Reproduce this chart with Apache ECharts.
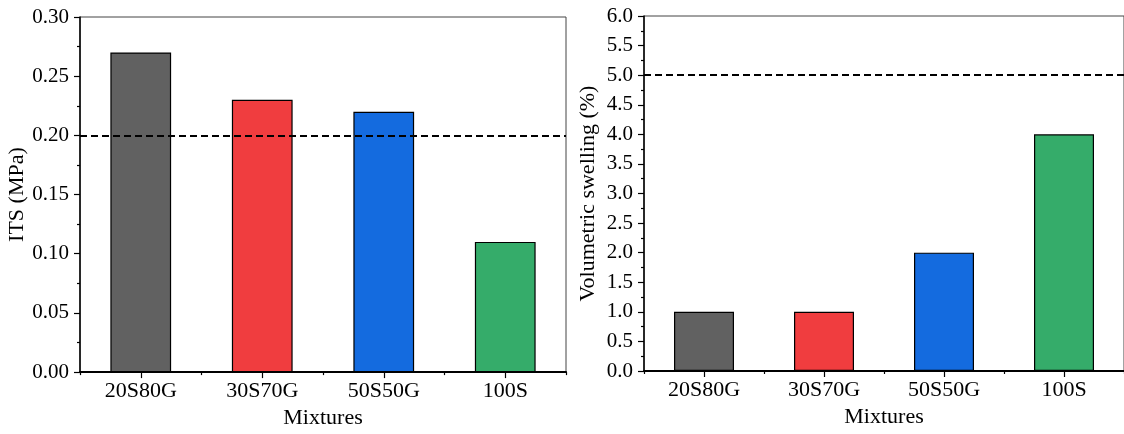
<!DOCTYPE html>
<html>
<head>
<meta charset="utf-8">
<script src="https://cdn.jsdelivr.net/npm/echarts@6/dist/echarts.min.js"></script>
<style>
html,body{margin:0;padding:0;background:#fff;}
#c{width:1124px;height:434px;}
</style>
</head>
<body>
<div id="c"></div>
<script>
const categories = ['20S80G', '30S70G', '50S50G', '100S'];
const itsValues = [0.27, 0.23, 0.22, 0.11];
const swellValues = [1.0, 1.0, 2.0, 4.0];
const itsLimit = 0.20;
const swellLimit = 5.0;
const barColors = ['#616161', '#F03D3F', '#146BDF', '#35AC6A'];

const FONT = '"Liberation Serif", "Times New Roman", serif';
const chart = echarts.init(document.getElementById('c'));

function catAxis(gi, name) {
  return {
    type: 'category', gridIndex: gi, data: categories, name: name,
    nameLocation: 'middle', nameGap: 33,
    nameTextStyle: { fontFamily: FONT, fontSize: 22, color: '#000' },
    axisLine: { lineStyle: { color: '#000', width: 2 } },
    axisTick: { show: true, alignWithLabel: true, length: 6, lineStyle: { color: '#000', width: 1.2 } },
    axisLabel: { fontFamily: FONT, fontSize: 22, color: '#000', margin: 8 },
    splitLine: { show: false }
  };
}
function boundaryAxis(gi) {
  return {
    type: 'value', gridIndex: gi, min: 0, max: 4, interval: 1, position: 'bottom',
    axisLine: { show: false },
    axisTick: { show: true, length: 3, lineStyle: { color: '#000', width: 1.2 } },
    axisLabel: { show: false }, splitLine: { show: false }
  };
}
function valAxis(gi, name, max, interval, dec, gap) {
  return {
    type: 'value', gridIndex: gi, min: 0, max: max, interval: interval,
    name: name, nameLocation: 'middle', nameGap: gap, nameRotate: 90,
    nameTextStyle: { fontFamily: FONT, fontSize: 22, color: '#000' },
    axisLine: { show: true, lineStyle: { color: '#000', width: 1.5 } },
    axisTick: { show: true, length: 6, lineStyle: { color: '#000', width: 1.2 } },
    minorTick: { show: true, splitNumber: 2, length: 3, lineStyle: { color: '#000', width: 1.2 } },
    axisLabel: { fontFamily: FONT, fontSize: 21, color: '#000', margin: 11,
      formatter: v => v.toFixed(dec) },
    splitLine: { show: false }
  };
}
function barSeries(xi, yi, vals, limit) {
  return {
    type: 'bar', xAxisIndex: xi, yAxisIndex: yi, barWidth: '50%',
    data: vals.map((v, i) => ({ value: v, itemStyle: { color: barColors[i] } })),
    itemStyle: { borderColor: '#000', borderWidth: 1.2 },
    silent: true,
    markLine: {
      silent: true, symbol: 'none', label: { show: false },
      lineStyle: { color: '#000', width: 2, type: [7, 4] },
      data: [{ yAxis: limit }]
    }
  };
}

chart.setOption({
  animation: false,
  backgroundColor: '#fff',
  grid: [
    { left: 80, top: 17, width: 486, height: 358, show: true, borderColor: '#444', borderWidth: 1 },
    { left: 644, top: 16, width: 486, height: 355, show: true, borderColor: '#444', borderWidth: 1 }
  ],
  xAxis: [catAxis(0, 'Mixtures'), catAxis(1, 'Mixtures'), boundaryAxis(0), boundaryAxis(1)],
  yAxis: [
    valAxis(0, 'ITS (MPa)', 0.30, 0.05, 2, 49),
    valAxis(1, 'Volumetric swelling (%)', 6.0, 0.5, 1, 45)
  ],
  series: [
    barSeries(0, 0, itsValues, itsLimit),
    barSeries(1, 1, swellValues, swellLimit)
  ]
});
</script>
</body>
</html>
